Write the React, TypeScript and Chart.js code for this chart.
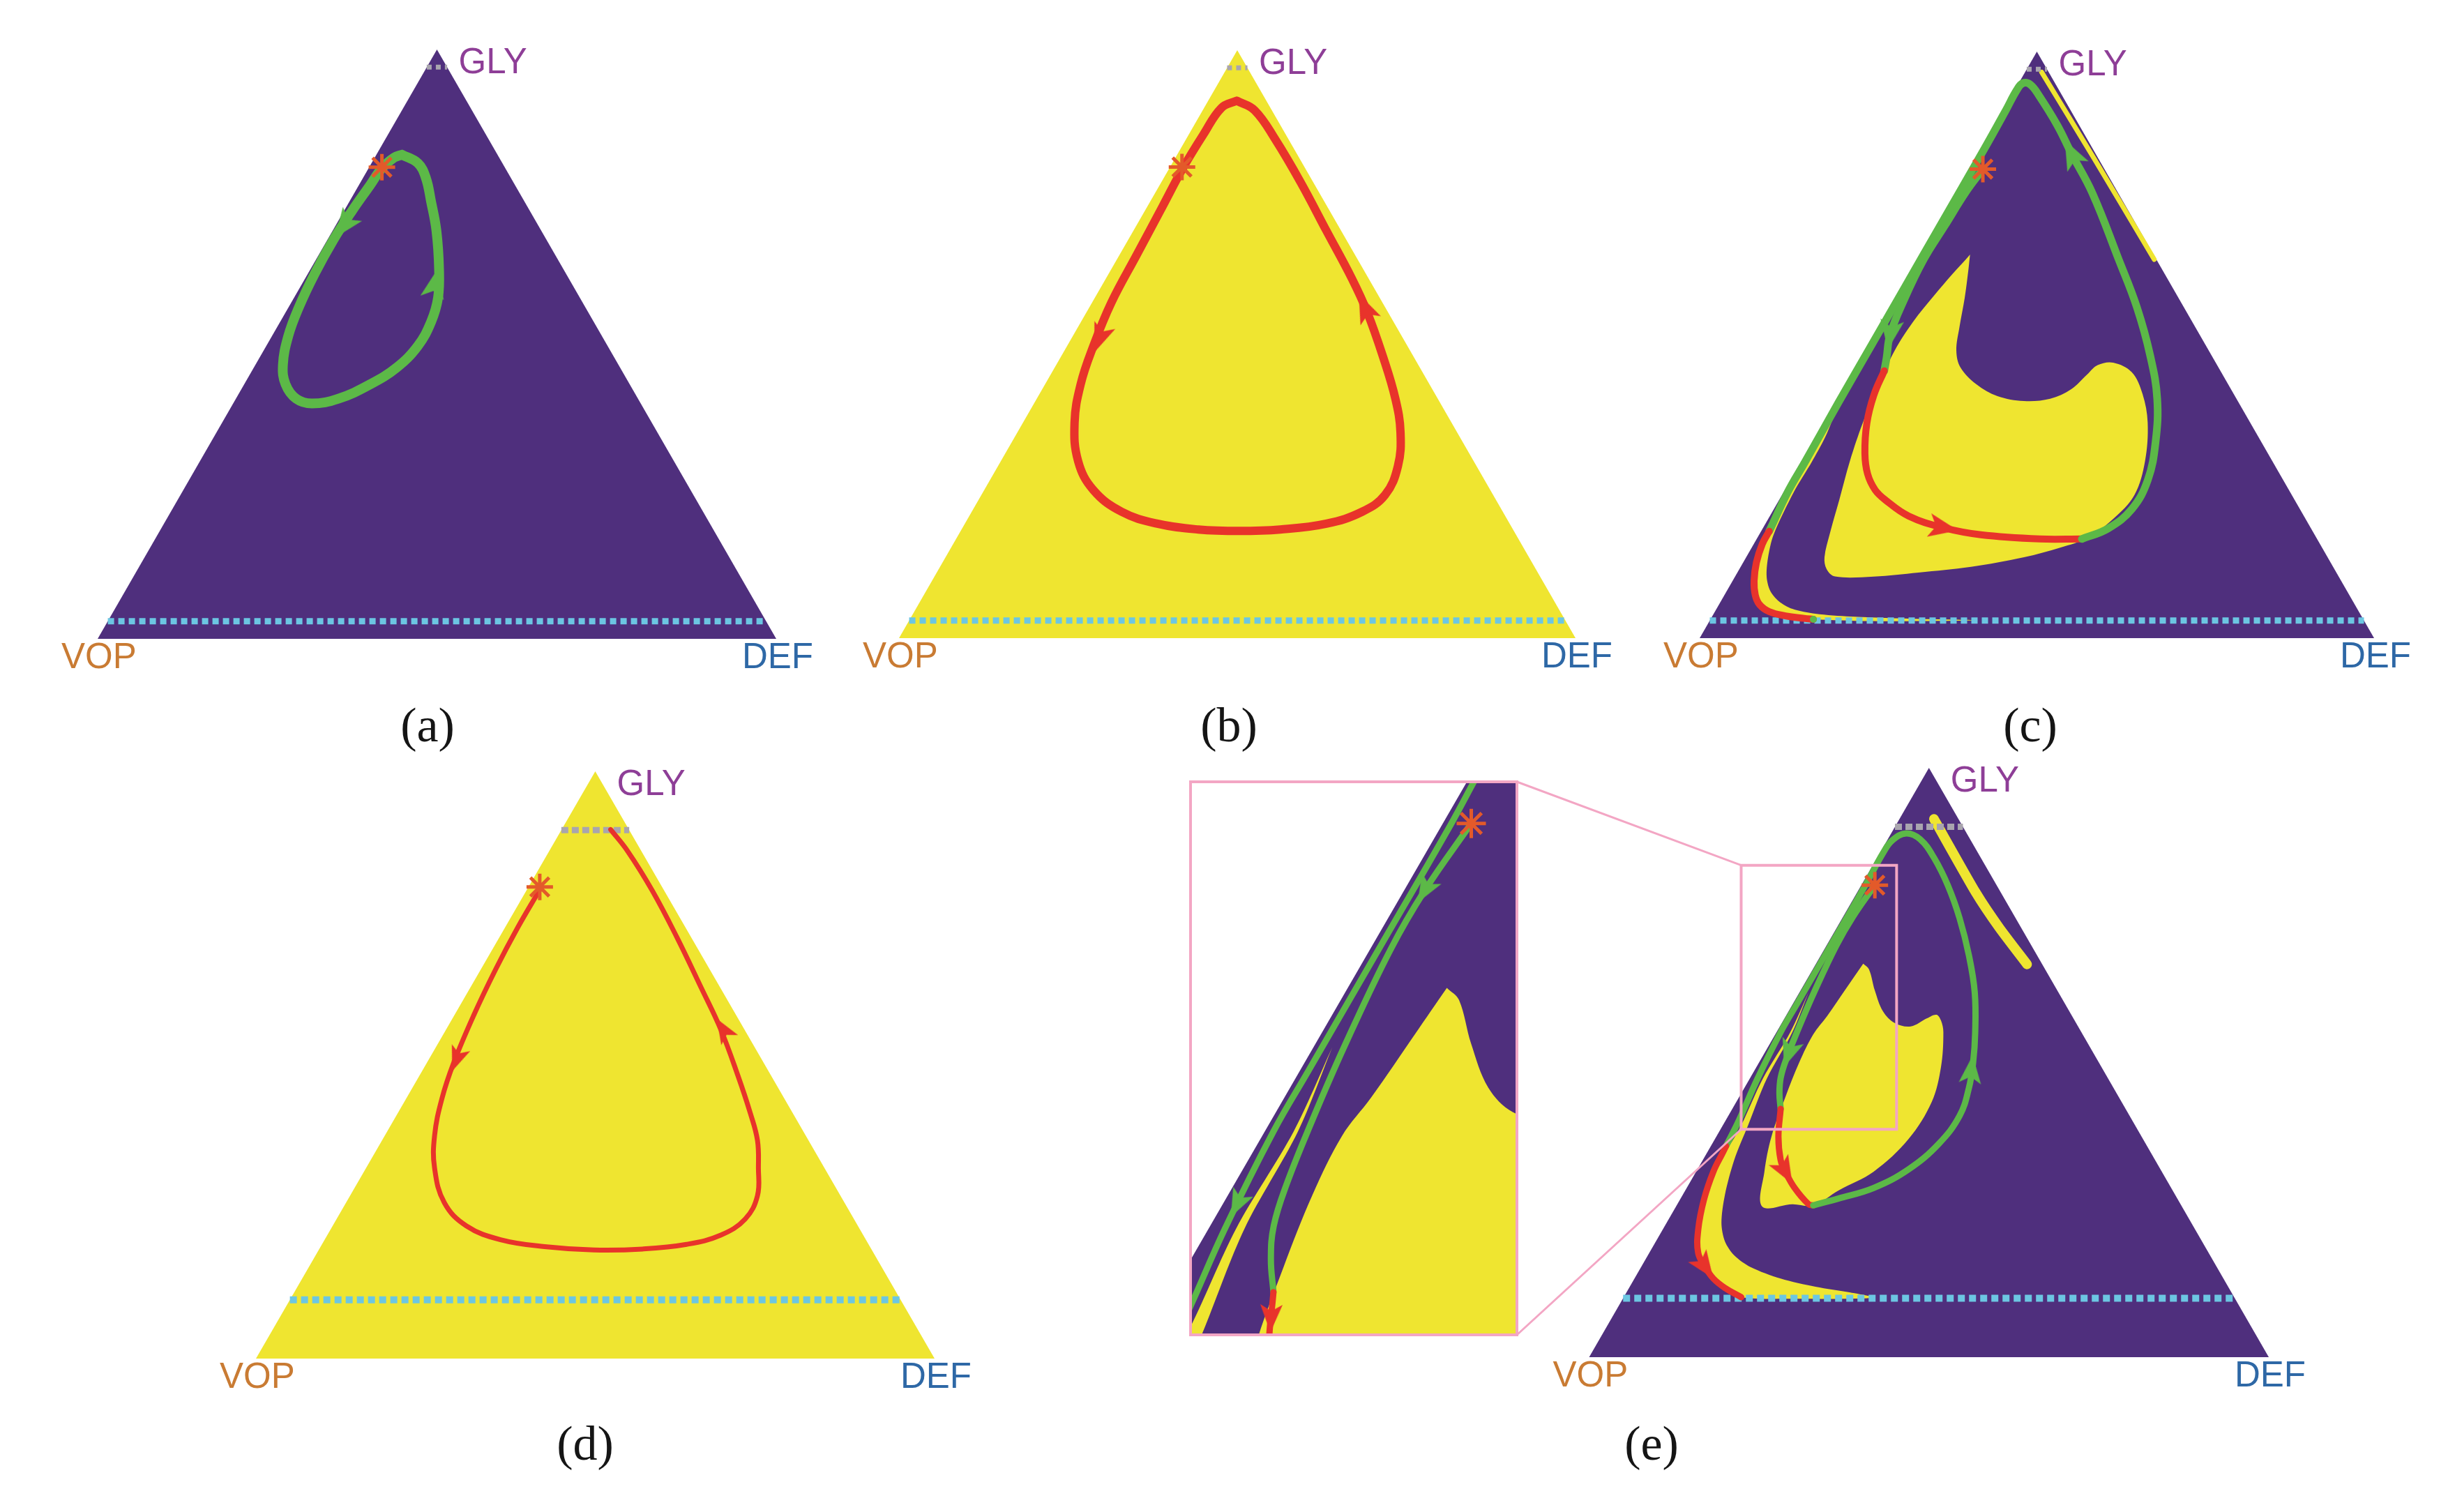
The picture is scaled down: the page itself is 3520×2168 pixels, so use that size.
import React, { useEffect, useRef } from "react";
import { Chart, registerables } from "chart.js";

Chart.register(...registerables);

// Ternary coordinates: [position along the VOP(0) – DEF(1) base, GLY share (0 at base, 1 at apex)]
type P = [number, number];
// Arrow heads: [x, gly, x of a point ahead on the curve, gly of that point]
type A = [number, number, number, number];

const vertexNames = ["VOP", "DEF", "GLY"];
const captions = ["(a)", "(b)", "(c)", "(d)", "(e)"];

const corners: P[] = [[0, 0], [1, 0], [0.5, 1], [0, 0]];
const guidesABC = [0.03, 0.97]; // low (cyan) and high (grey) GLY guide lines in (a)–(c)
const guidesDE = [0.1, 0.9]; // in (d)–(e)

// ---------- (a) ----------
const aCycle: P[] = [
  [0.4485, 0.8215], [0.472, 0.807], [0.4836, 0.7824], [0.4914, 0.7416], [0.4992, 0.6927],
  [0.5031, 0.6275], [0.5016, 0.5786], [0.4914, 0.5379], [0.4719, 0.4971], [0.4407, 0.4604],
  [0.4017, 0.4319], [0.3549, 0.4075], [0.3159, 0.3993], [0.2925, 0.4075], [0.2769, 0.4319],
  [0.273, 0.4645], [0.2808, 0.5134], [0.2964, 0.5623], [0.3198, 0.6194], [0.3471, 0.6764],
  [0.3744, 0.7254], [0.4017, 0.7702], [0.4189, 0.7987], [0.4368, 0.8166], [0.4485, 0.8215],
];
const aStar: P[] = [[0.4189, 0.8003]];
const aArrows: A[] = [[0.3627, 0.7009, 0.3471, 0.6764], [0.4969, 0.6031, 0.503, 0.64]];

// ---------- (b) ----------
const bCycle: P[] = [
  [0.4992, 0.9141], [0.5257, 0.8978], [0.556, 0.8487], [0.5938, 0.7751], [0.6316, 0.6933],
  [0.6694, 0.6116], [0.6921, 0.5544], [0.7148, 0.4808], [0.7337, 0.4072], [0.7413, 0.35],
  [0.7375, 0.2927], [0.7186, 0.2437], [0.6846, 0.215], [0.6316, 0.1946], [0.5635, 0.1848],
  [0.503, 0.1823], [0.4425, 0.1848], [0.382, 0.1946], [0.329, 0.215], [0.2874, 0.2518],
  [0.2648, 0.3009], [0.2595, 0.3663], [0.2685, 0.4317], [0.2874, 0.4971], [0.3139, 0.5707],
  [0.3517, 0.6525], [0.3896, 0.7343], [0.4198, 0.7997], [0.4501, 0.8569], [0.4766, 0.9019],
  [0.4992, 0.9141],
];
const bStar: P[] = [[0.4183, 0.8013]];
const bArrows: A[] = [[0.2965, 0.5094, 0.28, 0.46], [0.6884, 0.5626, 0.6694, 0.6116]];

// ---------- (c) ----------
const cRegion: P[] = [
  [0.4009, 0.654], [0.3946, 0.6457], [0.3752, 0.6212], [0.3478, 0.5843], [0.3164, 0.5392],
  [0.2891, 0.4901], [0.2658, 0.4328], [0.242, 0.3674], [0.2228, 0.302], [0.2071, 0.2361],
  [0.1931, 0.1788], [0.1851, 0.1379], [0.1882, 0.1177], [0.2006, 0.1051], [0.2582, 0.105],
  [0.3243, 0.1118], [0.4023, 0.1215], [0.4809, 0.1379], [0.5354, 0.1546], [0.5745, 0.1706],
  [0.6132, 0.2033], [0.6448, 0.2444], [0.6604, 0.302], [0.6643, 0.3674], [0.6567, 0.4162],
  [0.6408, 0.4533], [0.6132, 0.4697], [0.5901, 0.4655], [0.5745, 0.4495], [0.551, 0.4245],
  [0.5197, 0.4082], [0.4807, 0.4043], [0.4416, 0.4126], [0.4103, 0.4328], [0.3868, 0.4614],
  [0.3806, 0.4899], [0.3853, 0.531], [0.393, 0.5803], [0.3986, 0.6294], [0.4009, 0.654],
];
const cSliver: P[] = [
  [0.198, 0.375], [0.156, 0.3], [0.131, 0.25], [0.1031, 0.1823], [0.0928, 0.1605],
  [0.0841, 0.1288], [0.0807, 0.0975], [0.0824, 0.0737], [0.0889, 0.0571], [0.1031, 0.0452],
  [0.1272, 0.038], [0.1548, 0.0337], [0.1686, 0.0321], [0.25, 0.029], [0.33, 0.029],
  [0.4137, 0.0305], [0.3268, 0.0327], [0.2234, 0.0369], [0.1717, 0.0416], [0.1375, 0.0499],
  [0.1169, 0.0634], [0.1044, 0.0812], [0.0993, 0.105], [0.1013, 0.1367], [0.1096, 0.1763],
  [0.14, 0.25], [0.166, 0.3], [0.185, 0.34], [0.198, 0.375],
];
const cEdgeStrip: P[] = [[0.507, 0.965], [0.5845, 0.8184], [0.674, 0.6457]];
const cGreenInner: P[] = [
  [0.4199, 0.7997], [0.3946, 0.7604], [0.3634, 0.7031], [0.3322, 0.6457], [0.303, 0.5767],
  [0.2823, 0.5172], [0.2771, 0.4776], [0.2737, 0.4558],
];
const cRedInner: P[] = [
  [0.2737, 0.4558], [0.2582, 0.4141], [0.2479, 0.3666], [0.245, 0.315], [0.249, 0.28],
  [0.26, 0.253], [0.2751, 0.2358], [0.3099, 0.2081], [0.3616, 0.1882], [0.4168, 0.1763],
  [0.504, 0.1691], [0.5667, 0.1691],
];
const cGreenOuter: P[] = [
  [0.5667, 0.1691], [0.6057, 0.187], [0.6408, 0.22], [0.6643, 0.269], [0.676, 0.3345],
  [0.6784, 0.4082], [0.668, 0.4819], [0.6484, 0.5638], [0.6213, 0.6457], [0.5822, 0.759],
  [0.5512, 0.8264], [0.5305, 0.874], [0.5029, 0.9254], [0.49, 0.944], [0.479, 0.946],
  [0.47, 0.934], [0.454, 0.9], [0.4222, 0.8344], [0.355, 0.7], [0.305, 0.6], [0.255, 0.5],
  [0.205, 0.4], [0.156, 0.3], [0.131, 0.25], [0.1031, 0.1823],
];
const cRedOuter: P[] = [
  [0.1031, 0.1823], [0.0928, 0.1605], [0.0841, 0.1288], [0.0807, 0.0975], [0.0824, 0.0737],
  [0.0889, 0.0571], [0.1031, 0.0452], [0.1272, 0.038], [0.1548, 0.0337], [0.1686, 0.0321],
];
const cEnd: P[] = [[0.1686, 0.0321]];
const cStar: P[] = [[0.4199, 0.7997]];
const cGreenArrows: A[] = [[0.2823, 0.5172, 0.2771, 0.4776], [0.5512, 0.8264, 0.5305, 0.874]];
const cRedArrows: A[] = [[0.3616, 0.1882, 0.4168, 0.1763]];

// ---------- (d) ----------
const dPath: P[] = [
  [0.4182, 0.7984], [0.3857, 0.7339], [0.3533, 0.663], [0.3208, 0.5843], [0.292, 0.5055],
  [0.274, 0.4425], [0.2632, 0.3795], [0.2632, 0.3244], [0.2776, 0.2654], [0.31, 0.226],
  [0.3605, 0.2024], [0.4254, 0.1906], [0.4975, 0.185], [0.5696, 0.1866], [0.6345, 0.1945],
  [0.6849, 0.2102], [0.721, 0.2378], [0.739, 0.2772], [0.7404, 0.3244], [0.739, 0.3717],
  [0.7282, 0.4189], [0.7102, 0.4819], [0.6849, 0.5606], [0.6561, 0.6315], [0.62, 0.7181],
  [0.584, 0.7969], [0.5479, 0.8638], [0.5227, 0.9008],
];
const dStar: P[] = [[0.4182, 0.8031]];
const dArrows: A[] = [[0.2956, 0.5094, 0.286, 0.48], [0.6885, 0.5606, 0.67, 0.596]];

// ---------- (e) ----------
const eLeaf: P[] = [
  [0.4033, 0.6678], [0.4118, 0.658], [0.4203, 0.6225], [0.4323, 0.587], [0.4494, 0.5672],
  [0.4733, 0.5613], [0.4972, 0.5751], [0.511, 0.5811], [0.5177, 0.5712], [0.5212, 0.5515],
  [0.5177, 0.4923], [0.5041, 0.4331], [0.4699, 0.37], [0.4187, 0.3148], [0.3674, 0.2832],
  [0.3297, 0.2576], [0.299, 0.2595], [0.2546, 0.2556], [0.2579, 0.3148], [0.2682, 0.374],
  [0.2887, 0.4411], [0.3092, 0.5002], [0.3297, 0.5476], [0.3503, 0.579], [0.381, 0.6304],
  [0.4033, 0.6678],
];
const eBand: P[] = [
  [0.323, 0.6196], [0.296, 0.5515], [0.2555, 0.4725], [0.2239, 0.3937], [0.206, 0.3582],
  [0.1964, 0.3464], [0.1828, 0.3148], [0.169, 0.2675], [0.1605, 0.2162], [0.1605, 0.1767],
  [0.1708, 0.153], [0.1828, 0.1334], [0.1998, 0.1175], [0.2238, 0.1018], [0.3, 0.099],
  [0.4187, 0.101], [0.3844, 0.1097], [0.3331, 0.1195], [0.2818, 0.1334], [0.2374, 0.153],
  [0.2135, 0.1728], [0.1998, 0.1964], [0.1947, 0.228], [0.1998, 0.2754], [0.2135, 0.3346],
  [0.234, 0.3937], [0.2614, 0.4725], [0.299, 0.5515], [0.323, 0.6196],
];
const eEdgeStrip: P[] = [[0.5074, 0.9132], [0.569, 0.7882], [0.6033, 0.729], [0.6443, 0.6666]];
const eGreenInner: P[] = [
  [0.4204, 0.801], [0.3878, 0.7467], [0.3636, 0.6983], [0.3312, 0.6196], [0.3085, 0.5591],
  [0.2907, 0.5077], [0.282, 0.475], [0.28, 0.448], [0.2818, 0.4213],
];
const eRedInner: P[] = [
  [0.2818, 0.4213], [0.2785, 0.374], [0.2818, 0.3346], [0.2887, 0.3148], [0.3024, 0.2872],
  [0.3229, 0.2595], [0.3297, 0.2576],
];
const eGreenOuter: P[] = [
  [0.3297, 0.2576], [0.3674, 0.2694], [0.4187, 0.2872], [0.4699, 0.3187], [0.5144, 0.3621],
  [0.5451, 0.4095], [0.5588, 0.4568], [0.565, 0.5], [0.568, 0.55], [0.5674, 0.6186],
  [0.5588, 0.6817], [0.5451, 0.7447], [0.528, 0.8], [0.5075, 0.8473], [0.487, 0.8789],
  [0.4665, 0.8888], [0.446, 0.8769], [0.4323, 0.8552], [0.406, 0.8], [0.356, 0.7],
  [0.306, 0.6], [0.2818, 0.5515], [0.2477, 0.4725], [0.2203, 0.4015], [0.2015, 0.3582],
];
const eRedOuter: P[] = [
  [0.2015, 0.3582], [0.1964, 0.3464], [0.1828, 0.3148], [0.169, 0.2675], [0.1605, 0.2162],
  [0.1605, 0.1767], [0.1708, 0.153], [0.1828, 0.1334], [0.1998, 0.1175], [0.2238, 0.1018],
];
const eStar: P[] = [[0.4204, 0.801]];
const eGreenArrows: A[] = [[0.2935, 0.515, 0.286, 0.49], [0.5623, 0.4884, 0.566, 0.53]];
const eRedArrows: A[] = [[0.2887, 0.3148, 0.3024, 0.2872], [0.1708, 0.153, 0.1828, 0.1334]];
// magnified window of (e)
const insetSpanX = [0.2237, 0.4524];
const insetSpanG = [0.3867, 0.8347];
const insetGreenArrows: A[] = [[0.3878, 0.7467, 0.3636, 0.6983], [0.2563, 0.4925, 0.2477, 0.4725]];
const insetRedArrows: A[] = [[0.28, 0.4, 0.279, 0.37]];

// ---------- styling / layout ----------
const PURPLE = "#4F2F7D";
const YELLOW = "#EFE530";
const GREEN = "#5CB947";
const RED = "#E8332B";
const STAR = "#E35A2A";
const CYAN = "#6CC6E2";
const GREY = "#A9A5AE";
const PINK = "#F3A6C4";
const LABEL_COLORS = ["#C97B33", "#2E68A6", "#8E3E97"];

type Geo = { bl: number; br: number; ay: number; by: number; canvas: number[]; cap: number[] };
const GEO: Record<string, Geo> = {
  a: { bl: 140, br: 1113, ay: 71, by: 916, canvas: [40, 20, 1160, 1080], cap: [613, 1063] },
  b: { bl: 1289, br: 2259, ay: 72, by: 915, canvas: [1200, 20, 1140, 1080], cap: [1762, 1063] },
  c: { bl: 2437, br: 3404, ay: 74, by: 915, canvas: [2340, 20, 1170, 1080], cap: [2911, 1063] },
  d: { bl: 367, br: 1340, ay: 1106, by: 1948, canvas: [250, 1060, 1200, 1100], cap: [839, 2093] },
  e: { bl: 2278.5, br: 3253, ay: 1101, by: 1946, canvas: [2170, 1060, 1180, 1100], cap: [2368, 2093] },
};
// inset border (centre of the pink line) and its canvas (exactly the border's outer edge)
const INSET = { l: 1707, t: 1121, r: 2175, b: 1914, canvas: [1705, 1119, 472, 797] };

// ---------- helpers ----------
const xy = (p: P[]) => p.map(([x, y]) => ({ x, y }));

const arrowCache: Record<string, HTMLCanvasElement> = {};
function arrowImage(color: string, len: number, wid: number) {
  const key = color + len + "_" + wid;
  if (arrowCache[key]) return arrowCache[key];
  const s = Math.ceil(Math.max(len, wid)) + 4;
  const c = document.createElement("canvas");
  c.width = s;
  c.height = s;
  const g = c.getContext("2d")!;
  const cx = s / 2, cy = s / 2;
  g.fillStyle = color;
  g.beginPath();
  g.moveTo(cx, cy - len / 2);
  g.lineTo(cx + wid / 2, cy + len / 2);
  g.lineTo(cx, cy + len / 2 - len * 0.24);
  g.lineTo(cx - wid / 2, cy + len / 2);
  g.closePath();
  g.fill();
  arrowCache[key] = c;
  return c;
}

const headingDeg = (c: any) => {
  const r = c.raw;
  if (!r || r.tx === undefined) return 0;
  const sx = c.chart.scales.x, sy = c.chart.scales.y;
  const dx = sx.getPixelForValue(r.tx) - sx.getPixelForValue(r.x);
  const dy = sy.getPixelForValue(r.ty) - sy.getPixelForValue(r.y);
  return (Math.atan2(dx, -dy) * 180) / Math.PI;
};

const area = (p: P[], color: string, tension = 0.4) => ({
  type: "line", data: xy(p), fill: "shape", backgroundColor: color, borderColor: "rgba(0,0,0,0)",
  borderWidth: 0, pointRadius: 0, tension,
});
const curve = (p: P[], color: string, width: number, tension = 0.4) => ({
  type: "line", data: xy(p), fill: false, borderColor: color, borderWidth: width, pointRadius: 0,
  tension, borderCapStyle: "round", borderJoinStyle: "round",
});
const guide = (g: number, color: string, width: number, dash: number[]) => ({
  type: "line", data: xy([[g / 2, g], [1 - g / 2, g]]), fill: false, borderColor: color,
  borderWidth: width, borderDash: dash, borderCapStyle: "butt", pointRadius: 0, tension: 0,
});
const heads = (a: A[], color: string, len: number, wid: number) => ({
  type: "line", data: a.map(([x, y, tx, ty]) => ({ x, y, tx, ty })), showLine: false,
  pointStyle: arrowImage(color, len, wid), pointRadius: 16, pointRotation: headingDeg,
});
const star = (p: P[], r = 19) => ({
  type: "line", data: xy(p), showLine: false, pointStyle: "star", pointRadius: r,
  pointBorderWidth: 5, pointBorderColor: STAR, pointBackgroundColor: STAR,
});
const dot = (p: P[], color: string) => ({
  type: "line", data: xy(p), showLine: false, pointStyle: "circle", pointRadius: 5,
  pointBorderWidth: 0, pointBackgroundColor: color, pointBorderColor: color,
});

function triScales(g: Geo) {
  const [cl, ct, cw, ch] = g.canvas;
  const W = g.br - g.bl, H = g.by - g.ay;
  return {
    x: { type: "linear", display: false, bounds: "data", min: (cl - g.bl) / W, max: (cl + cw - g.bl) / W },
    y: { type: "linear", display: false, bounds: "data", min: (g.by - ct - ch) / H, max: (g.by - ct) / H },
  };
}

function insetScales() {
  const [x0, x1] = insetSpanX, [g0, g1] = insetSpanG;
  const kx = (INSET.r - INSET.l) / (x1 - x0), kg = (INSET.b - INSET.t) / (g1 - g0);
  const [cl, ct, cw, ch] = INSET.canvas;
  return {
    x: { type: "linear", display: false, bounds: "data", min: x0 - (INSET.l - cl) / kx, max: x0 + (cl + cw - INSET.l) / kx },
    y: { type: "linear", display: false, bounds: "data", min: g0 - (ct + ch - INSET.b) / kg, max: g1 + (INSET.t - ct) / kg },
  };
}

const labelPlugin = (caption: string, g: Geo) => ({
  id: "ternaryLabels",
  afterDatasetsDraw(chart: any) {
    const { ctx } = chart;
    const sx = chart.scales.x, sy = chart.scales.y;
    const apexX = sx.getPixelForValue(0.5), apexY = sy.getPixelForValue(1);
    const leftX = sx.getPixelForValue(0), rightX = sx.getPixelForValue(1), baseY = sy.getPixelForValue(0);
    ctx.save();
    ctx.font = '51px "Liberation Sans", Arial, sans-serif';
    ctx.textBaseline = "alphabetic";
    ctx.textAlign = "left";
    ctx.fillStyle = LABEL_COLORS[2];
    ctx.fillText(vertexNames[2], apexX + 31, apexY + 34);
    ctx.fillStyle = LABEL_COLORS[0];
    ctx.fillText(vertexNames[0], leftX - 52, baseY + 42);
    ctx.textAlign = "right";
    ctx.fillStyle = LABEL_COLORS[1];
    ctx.fillText(vertexNames[1], rightX + 53, baseY + 42);
    ctx.font = '70px "Liberation Serif", "Times New Roman", serif';
    ctx.fillStyle = "#151515";
    ctx.textAlign = "center";
    ctx.fillText(caption, g.cap[0] - g.canvas[0], g.cap[1] - g.canvas[1]);
    ctx.restore();
  },
});

const borderPlugin = {
  id: "insetBorder",
  afterDraw(chart: any) {
    const { ctx } = chart;
    const [cl, ct] = INSET.canvas;
    ctx.save();
    ctx.strokeStyle = PINK;
    ctx.lineWidth = 4;
    ctx.strokeRect(INSET.l - cl, INSET.t - ct, INSET.r - INSET.l, INSET.b - INSET.t);
    ctx.restore();
  },
};

function config(datasets: any[], scales: any, plugins: any[]) {
  return {
    type: "line",
    data: { datasets: datasets.slice().reverse() }, // first listed = bottom layer
    options: {
      responsive: false,
      animation: false,
      devicePixelRatio: 1,
      events: [],
      layout: { padding: 0, autoPadding: false },
      plugins: { legend: { display: false }, tooltip: { enabled: false } },
      elements: { line: { capBezierPoints: false } },
      scales,
    },
    plugins,
  };
}

// ---------- panel builders ----------
const makeA = () =>
  config(
    [
      area(corners, PURPLE, 0),
      guide(guidesABC[0], CYAN, 9, [9, 6]),
      guide(guidesABC[1], GREY, 7, [7, 6]),
      curve(aCycle, GREEN, 14),
      heads(aArrows, GREEN, 42, 34),
      star(aStar),
    ],
    triScales(GEO.a),
    [labelPlugin(captions[0], GEO.a)]
  );

const makeB = () =>
  config(
    [
      area(corners, YELLOW, 0),
      guide(guidesABC[0], CYAN, 9, [9, 6]),
      guide(guidesABC[1], GREY, 7, [7, 6]),
      curve(bCycle, RED, 12),
      heads(bArrows, RED, 42, 32),
      star(bStar),
    ],
    triScales(GEO.b),
    [labelPlugin(captions[1], GEO.b)]
  );

const makeC = () =>
  config(
    [
      area(corners, PURPLE, 0),
      area(cRegion, YELLOW, 0.35),
      area(cSliver, YELLOW, 0.3),
      curve(cEdgeStrip, YELLOW, 7, 0.2),
      guide(guidesABC[0], CYAN, 9, [9, 6]),
      guide(guidesABC[1], GREY, 7, [7, 6]),
      curve(cGreenInner, GREEN, 11),
      curve(cRedInner, RED, 10),
      curve(cGreenOuter, GREEN, 11),
      curve(cRedOuter, RED, 10),
      dot(cEnd, GREEN),
      heads(cGreenArrows, GREEN, 42, 34),
      heads(cRedArrows, RED, 42, 34),
      star(cStar),
    ],
    triScales(GEO.c),
    [labelPlugin(captions[2], GEO.c)]
  );

const makeD = () =>
  config(
    [
      area(corners, YELLOW, 0),
      guide(guidesDE[0], CYAN, 10, [10, 6]),
      guide(guidesDE[1], GREY, 9, [10, 5]),
      curve(dPath, RED, 7),
      heads(dArrows, RED, 36, 28),
      star(dStar),
    ],
    triScales(GEO.d),
    [labelPlugin(captions[3], GEO.d)]
  );

const eLayers = () => [
  area(corners, PURPLE, 0),
  area(eLeaf, YELLOW, 0.35),
  area(eBand, YELLOW, 0.3),
  curve(eEdgeStrip, YELLOW, 14, 0.2),
  guide(guidesDE[0], CYAN, 10, [10, 6]),
  guide(guidesDE[1], GREY, 9, [10, 5]),
  curve(eGreenInner, GREEN, 9),
  curve(eRedInner, RED, 9),
  curve(eGreenOuter, GREEN, 9),
  curve(eRedOuter, RED, 9),
];

const makeE = () => {
  const g = GEO.e;
  const [x0, x1] = insetSpanX, [g0, g1] = insetSpanG;
  const W = g.br - g.bl, H = g.by - g.ay;
  const cornerX = (INSET.r - g.bl) / W;
  const cornerTop = (g.by - INSET.t) / H, cornerBottom = (g.by - INSET.b) / H;
  const box: P[] = [[x0, g0], [x1, g0], [x1, g1], [x0, g1], [x0, g0]];
  const link1: P[] = [[cornerX, cornerTop], [x0, g1]];
  const link2: P[] = [[cornerX, cornerBottom], [x0, g0]];
  return config(
    [
      ...eLayers(),
      heads(eGreenArrows, GREEN, 40, 32),
      heads(eRedArrows, RED, 40, 32),
      star(eStar),
      { ...curve(box, PINK, 4, 0), borderCapStyle: "square", borderJoinStyle: "miter" },
      curve(link1, PINK, 3, 0),
      curve(link2, PINK, 3, 0),
    ],
    triScales(g),
    [labelPlugin(captions[4], g)]
  );
};

const makeInset = () =>
  config(
    [
      ...eLayers(),
      heads(insetGreenArrows, GREEN, 40, 32),
      heads(insetRedArrows, RED, 40, 32),
      star(eStar, 21),
    ],
    insetScales(),
    [borderPlugin]
  );

function Panel({ rect, make, z }: { rect: number[]; make: () => any; z: number }) {
  const ref = useRef<HTMLCanvasElement>(null);
  useEffect(() => {
    const chart = new Chart(ref.current as HTMLCanvasElement, make());
    return () => chart.destroy();
  }, []);
  const [l, t, w, h] = rect;
  return (
    <canvas
      ref={ref}
      width={w}
      height={h}
      style={{ position: "absolute", left: l, top: t, width: w, height: h, zIndex: z }}
    />
  );
}

export default function App() {
  useEffect(() => {
    document.body.style.margin = "0";
    document.body.style.overflow = "hidden";
  }, []);
  return (
    <div style={{ position: "absolute", left: 0, top: 0, width: 3520, height: 2168, background: "#fff", overflow: "hidden" }}>
      <Panel rect={GEO.a.canvas} make={makeA} z={1} />
      <Panel rect={GEO.b.canvas} make={makeB} z={1} />
      <Panel rect={GEO.c.canvas} make={makeC} z={1} />
      <Panel rect={GEO.d.canvas} make={makeD} z={1} />
      <Panel rect={GEO.e.canvas} make={makeE} z={1} />
      <Panel rect={INSET.canvas} make={makeInset} z={2} />
    </div>
  );
}
